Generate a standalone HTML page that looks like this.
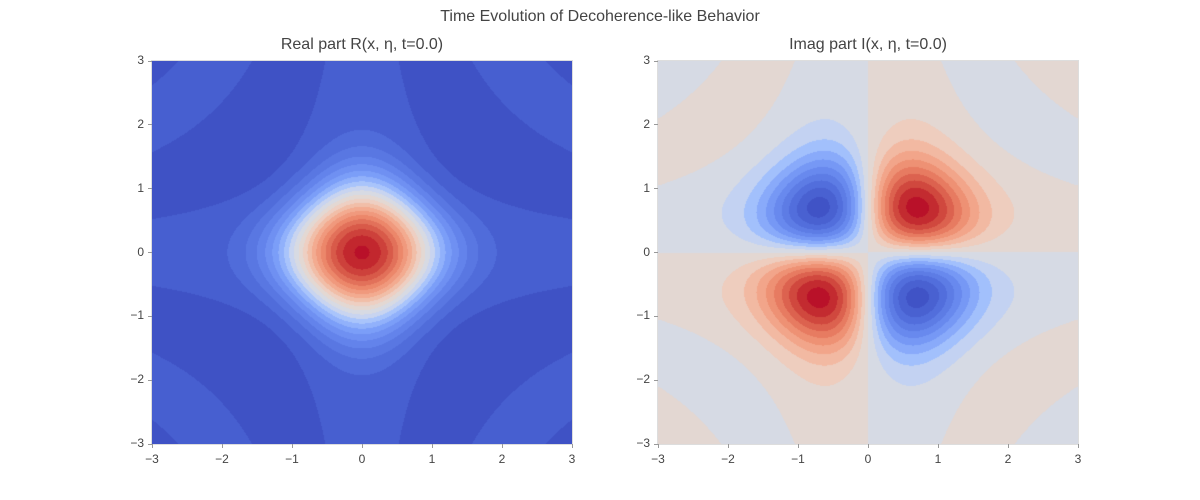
<!DOCTYPE html>
<html><head><meta charset="utf-8">
<style>
html,body{margin:0;padding:0;background:#fff;width:1200px;height:500px;overflow:hidden;font-family:"Liberation Sans",sans-serif;color:#444}
.t{position:absolute;white-space:nowrap}
canvas{position:absolute}
</style></head>
<body>
<div class="t" style="left:0;width:1200px;top:8px;text-align:center;font-size:16px">Time Evolution of Decoherence-like Behavior</div>
<div id="root"></div>
<script>
// data
const xTicks=[-3,-2,-1,0,1,2,3];
const yTicks=[-3,-2,-1,0,1,2,3];
const offsetAmp=[0.01];
const phaseCoef=[1.0];
const widthRe=[1.15];
const widthIm=[1.05];
const realLevels=[-0.05,0,0.05,0.1,0.15,0.2,0.25,0.3,0.35,0.4,0.45,0.5,0.55,0.6,0.65,0.7,0.75,0.8,0.85,0.9,0.95,1.0,1.05];
const imagLevels=[-0.2,-0.18,-0.16,-0.14,-0.12,-0.1,-0.08,-0.06,-0.04,-0.02,0,0.02,0.04,0.06,0.08,0.1,0.12,0.14,0.16,0.18,0.2];
const panels=[{name:'real-part',title:'Real part R(x, η, t=0.0)',left:152,levels:realLevels,part:'re'},
              {name:'imag-part',title:'Imag part I(x, η, t=0.0)',left:658,levels:imagLevels,part:'im'}];
const cmapStops=[[0,59,76,192],[0.1,77,104,215],[0.2,98,130,234],[0.3,124,159,249],[0.38,165,194,252],[0.44,205,215,238],[0.5,221,220,220],[0.57,238,207,193],[0.65,244,175,148],[0.75,236,135,106],[0.85,214,86,70],[0.93,194,40,46],[1,180,4,38]];
function cmap(t){t=Math.max(0,Math.min(1,t));for(let i=1;i<cmapStops.length;i++){const a=cmapStops[i-1],b=cmapStops[i];if(t<=b[0]){const f=(t-a[0])/(b[0]-a[0]);return [a[1]+f*(b[1]-a[1]),a[2]+f*(b[2]-a[2]),a[3]+f*(b[3]-a[3])];}}return cmapStops[cmapStops.length-1].slice(1);}
const TOP=61,W=420,H=383,XMIN=-3,XMAX=3;
function sx(left,v){return left+(v-XMIN)/(XMAX-XMIN)*W;}
function sy(v){return TOP+(XMAX-v)/(XMAX-XMIN)*H;}
function field(x,y,part){const s=part==='re'?widthRe[0]:widthIm[0];const g=Math.exp(-(x*x+y*y)/s)+offsetAmp[0];const ph=phaseCoef[0]*x*y;return part==='re'?g*Math.cos(ph):g*Math.sin(ph);}
const root=document.getElementById('root');
panels.forEach(p=>{
  const c=document.createElement('canvas');
  
  
  c.width=W;c.height=H;c.style.left=p.left+'px';c.style.top=TOP+'px';
  root.appendChild(c);
  const ctx=c.getContext('2d');const img=ctx.createImageData(W,H);
  const L=p.levels,n=L.length-1,lo=L[0],hi=L[n];
  const cols=[];for(let k=0;k<n;k++){const m=(L[k]+L[k+1])/2;cols.push(cmap((m-lo)/(hi-lo)));}
  for(let j=0;j<H;j++){const y=XMAX-(j+0.5)/H*(XMAX-XMIN);
    for(let i=0;i<W;i++){const x=XMIN+(i+0.5)/W*(XMAX-XMIN);
      const v=field(x,y,p.part);let k=0;while(k<n-1&&v>L[k+1])k++;
      const col=cols[k];const o=(j*W+i)*4;img.data[o]=col[0];img.data[o+1]=col[1];img.data[o+2]=col[2];img.data[o+3]=255;}}
  ctx.putImageData(img,0,0);
  const fr=document.createElement('div');
  
  
  fr.style.cssText=`position:absolute;left:${p.left-1}px;top:${TOP-1}px;width:${W}px;height:${H}px;border:1px solid #ddd`;
  root.appendChild(fr);
  const t=document.createElement('div');
  
  
  t.className='t';t.textContent=p.title;
  t.style.cssText+=`left:${p.left}px;width:${W}px;top:36px;text-align:center;font-size:16px`;
  root.appendChild(t);
  xTicks.forEach(v=>{
    const l=document.createElement('div');
    
    
    l.className='t';l.textContent=(v<0?'\u2212':'')+Math.abs(v);
    l.style.cssText+=`left:${sx(p.left,v)-20}px;width:40px;text-align:center;top:452px;font-size:12px`;
    root.appendChild(l);
    const tk=document.createElement('div');
    
    
    tk.style.cssText=`position:absolute;left:${sx(p.left,v)-0.5}px;top:${TOP+H}px;width:1px;height:4px;background:#999`;
    root.appendChild(tk);
  });
  yTicks.forEach(v=>{
    const l=document.createElement('div');
    
    
    l.className='t';l.textContent=(v<0?'\u2212':'')+Math.abs(v);
    l.style.cssText+=`left:${p.left-50}px;width:42px;text-align:right;top:${sy(v)-8}px;font-size:12px`;
    root.appendChild(l);
    const tk=document.createElement('div');
    
    
    tk.style.cssText=`position:absolute;left:${p.left-4}px;top:${sy(v)-0.5}px;width:4px;height:1px;background:#999`;
    root.appendChild(tk);
  });
});
</script>
</body></html>
